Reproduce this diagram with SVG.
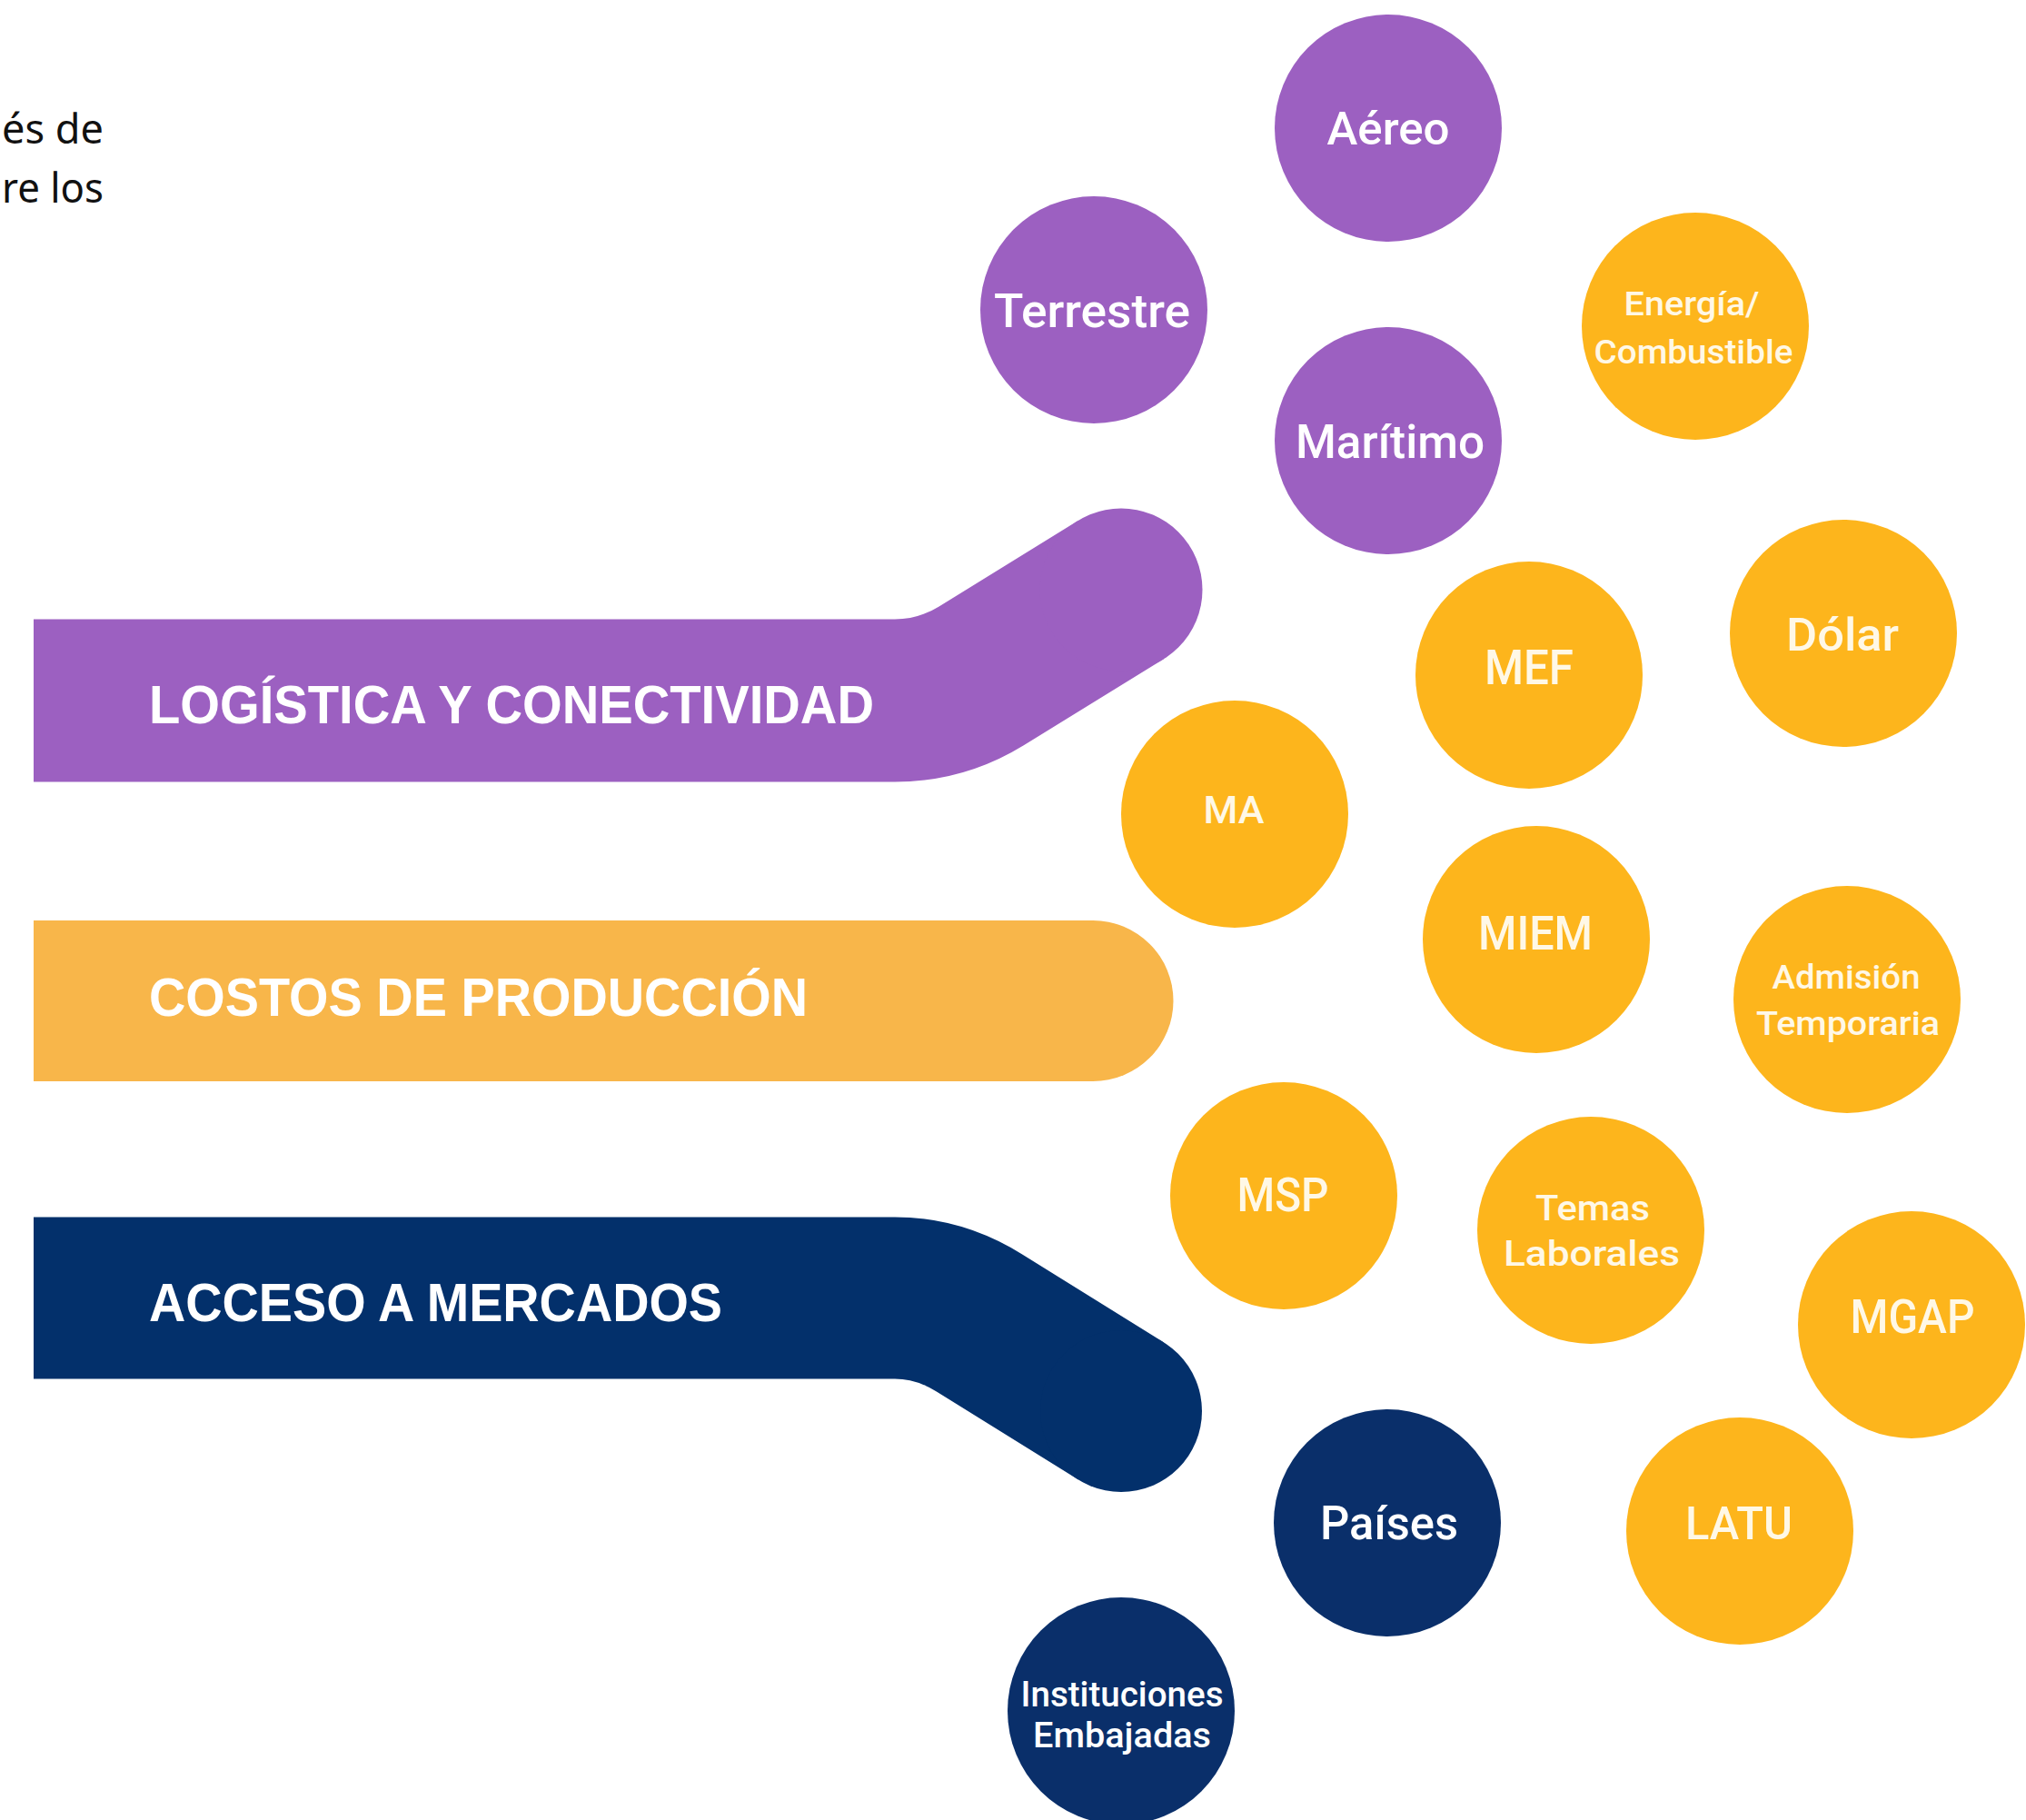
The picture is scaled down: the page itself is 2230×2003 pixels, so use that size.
<svg xmlns="http://www.w3.org/2000/svg" width="2230" height="2003" viewBox="0 0 2230 2003">
<style>
.bg{fill:#ffffff}
.band{fill:none;stroke-linecap:butt;stroke-linejoin:round}
.pu{fill:#9C60C1}
.og{fill:#FDB51C}
.nv{fill:#0A2F6A}
.bl{font-family:"Liberation Sans","Noto Sans",sans-serif;font-weight:bold;font-size:60px;fill:#FFFFFF}
.ct{font-family:Roboto,"Noto Sans","DejaVu Sans",sans-serif;font-weight:500;fill:#FFFFFF;text-anchor:middle}
.co{fill:#FFF8E6}
.intro{font-family:"Noto Sans","DejaVu Sans",sans-serif;font-size:46px;fill:#111111}
</style>
<rect class="bg" x="0" y="0" width="2230" height="2003"/>
<g id="intro">
<text class="intro" x="2" y="158" textLength="112" lengthAdjust="spacingAndGlyphs">és de</text>
<text class="intro" x="2" y="223" textLength="112" lengthAdjust="spacingAndGlyphs">re los</text>
</g>
<g id="connectors"></g>
<g id="band-logistica">
<path class="band" stroke="#9C60C1" stroke-width="179" d="M37,771 H985 Q1036,771 1080,744 L1234,649"/>
<circle cx="1234" cy="649" r="89.5" fill="#9C60C1"/>
<text class="bl" x="164" y="796" textLength="798" lengthAdjust="spacingAndGlyphs">LOGÍSTICA Y CONECTIVIDAD</text>
</g>
<g id="band-costos">
<path fill="#F8B64A" d="M37,1013 H1203 A88.5,88.5 0 0 1 1203,1190 H37 Z"/>
<text class="bl" x="164" y="1118" textLength="725" lengthAdjust="spacingAndGlyphs" fill="#FFF7E8">COSTOS DE PRODUCCIÓN</text>
</g>
<g id="band-acceso">
<path class="band" stroke="#03306B" stroke-width="178" d="M37,1428.5 H985 Q1034,1428.5 1078,1456 L1234,1553"/>
<circle cx="1234" cy="1553" r="89" fill="#03306B"/>
<text class="bl" x="164" y="1454" textLength="631" lengthAdjust="spacingAndGlyphs">ACCESO A MERCADOS</text>
</g>
<g id="n-aereo"><circle class="pu" cx="1528" cy="141" r="125"/><text class="ct" x="1528" y="159" font-size="50" textLength="135" lengthAdjust="spacingAndGlyphs">Aéreo</text></g>
<g id="n-terrestre"><circle class="pu" cx="1204" cy="341" r="125"/><text class="ct" x="1202" y="360" font-size="52" textLength="216" lengthAdjust="spacingAndGlyphs">Terrestre</text></g>
<g id="n-maritimo"><circle class="pu" cx="1528" cy="485" r="125"/><text class="ct" x="1530" y="504" font-size="52" textLength="208" lengthAdjust="spacingAndGlyphs">Marítimo</text></g>
<g id="n-energia"><circle class="og" cx="1866" cy="359" r="125"/><text class="ct co" x="1862" y="347" font-size="36" textLength="149" lengthAdjust="spacingAndGlyphs">Energía/</text><text class="ct co" x="1864" y="400" font-size="36" textLength="219" lengthAdjust="spacingAndGlyphs">Combustible</text></g>
<g id="n-dolar"><circle class="og" cx="2029" cy="697" r="125"/><text class="ct co" x="2028" y="716" font-size="50" textLength="124" lengthAdjust="spacingAndGlyphs">Dólar</text></g>
<g id="n-mef"><circle class="og" cx="1683" cy="743" r="125"/><text class="ct co" x="1683" y="753" font-size="54" textLength="98" lengthAdjust="spacingAndGlyphs">MEF</text></g>
<g id="n-ma"><circle class="og" cx="1359" cy="896" r="125"/><text class="ct co" x="1358" y="906" font-size="42" textLength="67" lengthAdjust="spacingAndGlyphs">MA</text></g>
<g id="n-miem"><circle class="og" cx="1691" cy="1034" r="125"/><text class="ct co" x="1690" y="1045" font-size="52" textLength="126" lengthAdjust="spacingAndGlyphs">MIEM</text></g>
<g id="n-admision"><circle class="og" cx="2033" cy="1100" r="125"/><text class="ct co" x="2032" y="1088" font-size="37" textLength="163" lengthAdjust="spacingAndGlyphs">Admisión</text><text class="ct co" x="2034" y="1139" font-size="37" textLength="202" lengthAdjust="spacingAndGlyphs">Temporaria</text></g>
<g id="n-msp"><circle class="og" cx="1413" cy="1316" r="125"/><text class="ct co" x="1412" y="1333" font-size="52" textLength="101" lengthAdjust="spacingAndGlyphs">MSP</text></g>
<g id="n-temas"><circle class="og" cx="1751" cy="1354" r="125"/><text class="ct co" x="1753" y="1343" font-size="39" textLength="126" lengthAdjust="spacingAndGlyphs">Temas</text><text class="ct co" x="1752" y="1393" font-size="39" textLength="194" lengthAdjust="spacingAndGlyphs">Laborales</text></g>
<g id="n-mgap"><circle class="og" cx="2104" cy="1458" r="125"/><text class="ct co" x="2105" y="1467" font-size="52" textLength="137" lengthAdjust="spacingAndGlyphs">MGAP</text></g>
<g id="n-paises"><circle class="nv" cx="1527" cy="1676" r="125"/><text class="ct" x="1529" y="1694" font-size="52" textLength="152" lengthAdjust="spacingAndGlyphs">Países</text></g>
<g id="n-latu"><circle class="og" cx="1915" cy="1685" r="125"/><text class="ct co" x="1914" y="1694" font-size="50" textLength="118" lengthAdjust="spacingAndGlyphs">LATU</text></g>
<g id="n-instituciones"><circle class="nv" cx="1234" cy="1883" r="125"/><text class="ct" x="1235" y="1878" font-size="38" textLength="223" lengthAdjust="spacingAndGlyphs">Instituciones</text><text class="ct" x="1235" y="1923" font-size="38" textLength="196" lengthAdjust="spacingAndGlyphs">Embajadas</text></g>
</svg>
